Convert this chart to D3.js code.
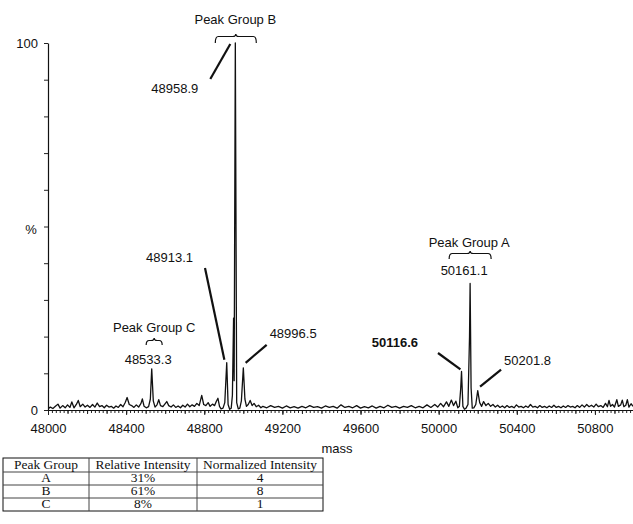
<!DOCTYPE html>
<html><head><meta charset="utf-8">
<script src="https://cdn.jsdelivr.net/npm/d3@7"></script>
<style>body{margin:0;background:#fff} svg{display:block}</style>
</head><body>
<svg id="chart" width="633" height="524"></svg>
<script>
// ---- data ----
const spectrumPoints = [
[48000,0.3],[48012,0.8],[48025,0.4],[48038,1.0],[48051,1.6],[48062,0.5],[48075,1.2],[48088,0.6],[48100,1.4],[48112,0.7],
[48122,2.2],[48133,0.6],[48145,1.5],[48155,2.6],[48165,0.9],[48178,1.6],[48190,0.8],[48202,1.3],[48215,0.7],[48228,1.5],
[48240,0.8],[48252,1.9],[48264,0.9],[48276,1.2],[48288,0.6],[48300,1.3],[48312,0.8],[48324,1.0],[48336,0.5],[48348,1.1],
[48360,0.7],[48372,1.5],[48384,0.9],[48396,2.1],[48405,3.4],[48416,1.5],[48428,1.2],[48440,0.7],[48452,1.4],[48464,0.8],
[48476,1.8],[48483,3.0],[48492,1.0],[48503,0.6],[48515,0.9],[48524,3.0],[48531,11.2],[48539,2.5],[48548,0.8],[48558,1.4],
[48567,2.8],[48576,1.2],[48588,0.9],[48598,1.6],[48608,2.3],[48618,1.2],[48630,0.8],[48642,1.4],[48654,0.7],[48666,1.1],
[48678,0.6],[48690,1.3],[48702,0.8],[48714,1.6],[48726,0.9],[48738,1.4],[48750,1.0],[48762,1.8],[48774,1.2],[48787,4.0],
[48797,1.5],[48808,1.2],[48820,2.0],[48830,1.0],[48842,1.6],[48853,1.2],[48862,2.4],[48870,3.2],[48878,1.0],[48886,0.3],
[48896,0.5],[48905,2.0],[48915,12.9],[48922,1.5],[48930,0.2],[48938,0.5],[48944,4.0],[48950,25],[48953,8],[48959,100],
[48966,2.0],[48974,0.3],[48982,0.5],[48990,2.5],[49000,11.5],[49008,3.0],[49016,1.0],[49025,1.5],[49035,2.6],[49045,1.2],
[49055,1.8],[49066,0.9],[49078,1.3],[49090,0.6],[49100,1.0],[49120,0.6],[49140,1.2],[49160,0.7],[49180,1.0],[49200,0.5],
[49220,1.1],[49240,0.6],[49260,0.9],[49280,0.5],[49300,1.0],[49320,0.6],[49340,1.2],[49360,0.7],[49380,0.9],[49400,0.5],
[49420,1.1],[49440,0.7],[49460,1.0],[49480,0.5],[49500,1.4],[49520,0.7],[49540,1.0],[49560,0.6],[49580,1.2],[49600,0.5],
[49620,0.9],[49640,0.6],[49660,1.1],[49680,0.5],[49700,1.0],[49720,0.6],[49740,1.3],[49760,0.7],[49780,1.0],[49800,0.5],
[49820,1.0],[49840,0.7],[49860,1.2],[49880,0.6],[49900,1.0],[49920,0.6],[49940,1.4],[49960,0.7],[49980,1.5],[49995,0.8],
[50010,1.8],[50025,0.9],[50040,2.2],[50052,1.0],[50065,2.7],[50076,1.2],[50088,2.4],[50098,0.6],[50106,1.0],[50113,6.0],
[50117,10.5],[50124,1.0],[50132,0.2],[50140,0.5],[50150,1.5],[50158,20],[50161,34.5],[50166,6],[50172,0.5],[50180,0.6],
[50190,1.5],[50200,5.3],[50210,2.0],[50220,1.0],[50230,2.3],[50242,1.2],[50254,1.8],[50266,1.0],[50278,1.5],[50290,0.8],
[50302,1.3],[50314,0.7],[50326,1.1],[50338,0.6],[50350,1.2],[50362,0.7],[50374,1.0],[50386,0.6],[50398,1.4],[50410,0.8],
[50422,1.0],[50434,0.6],[50446,1.1],[50458,0.7],[50470,1.5],[50482,0.8],[50494,1.0],[50506,0.6],[50518,1.2],[50530,0.7],
[50542,1.0],[50554,0.6],[50566,1.1],[50578,0.7],[50590,1.3],[50602,0.7],[50614,1.0],[50626,0.6],[50638,1.1],[50650,0.7],
[50662,1.2],[50674,0.8],[50686,1.0],[50698,0.6],[50710,1.2],[50722,0.7],[50734,1.4],[50746,0.8],[50758,1.5],[50770,0.9],
[50782,1.3],[50794,0.8],[50806,1.6],[50818,0.9],[50830,1.2],[50842,0.7],[50854,1.8],[50864,0.9],[50872,2.6],[50880,1.0],
[50890,1.5],[50900,0.8],[50912,2.8],[50920,1.0],[50932,1.4],[50940,2.7],[50948,0.9],[50958,1.3],[50966,2.8],[50974,0.8],
[50985,1.7],[50995,1.0]
];
const xTickValues = [48000,48400,48800,49200,49600,50000,50400,50800];
const yTickValues = [0,10,20,30,40,50,60,70,80,90,100];
const yTickLabels = [0,100];
const peakMasses = [48533.3,48913.1,48958.9,48996.5,50116.6,50161.1,50201.8];
const peakHeights = [11.2,12.9,100,11.5,10.5,34.5,5.3];
const groupNames = ["Peak Group A","Peak Group B","Peak Group C"];
const tableHeader = ["Peak Group","Relative Intensity","Normalized Intensity"];
const tableGroups = ["A","B","C"];
const tableRelative = ["31%","61%","8%"];
const tableNormalized = ["4","8","1"];

// ---- chart ----
const svg = d3.select("#chart");
const x = d3.scaleLinear().domain([48000, 51000]).range([48, 634]);
const y = d3.scaleLinear().domain([0, 100]).range([410, 43]);
const sans = "Liberation Sans, Arial, sans-serif";

svg.append("defs").append("clipPath").attr("id","clip")
  .append("rect").attr("x",48).attr("y",0).attr("width",585).attr("height",420);

// spectrum
const line = d3.line().x(d => x(d[0])).y(d => y(d[1]));
svg.append("path").datum(spectrumPoints)
  .attr("clip-path","url(#clip)")
  .attr("d", line).attr("fill","none").attr("stroke","#111")
  .attr("stroke-width",1.3).attr("stroke-linejoin","round");

// x axis: minor ticks
const xMinor = svg.append("g").attr("transform","translate(0,410)")
  .call(d3.axisBottom(x).tickValues(d3.range(48000, 51000, 20)).tickSize(3).tickFormat("").tickSizeOuter(0));
xMinor.select(".domain").remove();
const xMid = svg.append("g").attr("transform","translate(0,410)")
  .call(d3.axisBottom(x).tickValues(d3.range(48000, 51000, 100)).tickSize(4).tickFormat("").tickSizeOuter(0));
xMid.select(".domain").remove();
const xAxis = svg.append("g").attr("transform","translate(0,410)")
  .call(d3.axisBottom(x).tickValues(xTickValues).tickSize(5).tickPadding(9).tickSizeOuter(0).tickFormat(d3.format("d")));
xAxis.selectAll("text").attr("font-family", sans).attr("font-size",13).attr("fill","#111");
svg.selectAll(".tick line").attr("stroke","#222");
xAxis.select(".domain").attr("stroke","#111").attr("stroke-width",1.2);

// y axis
const yAxis = svg.append("g").attr("transform","translate(48,0)")
  .call(d3.axisLeft(y).tickValues(yTickValues).tickSize(4).tickPadding(6).tickSizeOuter(0)
    .tickFormat(d => yTickLabels.includes(d) ? d : ""));
yAxis.selectAll("text").attr("font-family", sans).attr("font-size",13).attr("fill","#111");
yAxis.select(".domain").attr("stroke","#111").attr("stroke-width",1.2);
yAxis.selectAll(".tick line").attr("stroke","#222");

svg.append("text").attr("x",31).attr("y",y(50)+7).attr("text-anchor","middle")
  .attr("font-family",sans).attr("font-size",13).attr("fill","#111").text("%");
svg.append("text").attr("x",337).attr("y",453).attr("text-anchor","middle")
  .attr("font-family",sans).attr("font-size",13).attr("fill","#111").text("mass");

// annotations
function txt(xp, yp, s, anchor, weight){
  svg.append("text").attr("x",xp).attr("y",yp).attr("text-anchor",anchor||"middle")
    .attr("font-family",sans).attr("font-size",13).attr("font-weight",weight||"normal")
    .attr("fill","#111").text(s);
}
function leader(x1,y1,x2,y2){
  svg.append("line").attr("x1",x1).attr("y1",y1).attr("x2",x2).attr("y2",y2)
    .attr("stroke","#111").attr("stroke-width",2.2);
}
function brace(x0,x1,yT,yB){
  const xm=(x0+x1)/2, yM=yT+2.5;
  svg.append("path").attr("d",
    `M${x0},${yB} Q${x0},${yM} ${x0+3},${yM} L${xm-3},${yM} Q${xm},${yM} ${xm},${yT} Q${xm},${yM} ${xm+3},${yM} L${x1-3},${yM} Q${x1},${yM} ${x1},${yB}`)
    .attr("fill","none").attr("stroke","#111").attr("stroke-width",1.2);
}
const pk = i => [x(peakMasses[i]), y(peakHeights[i])];

// Group B
let [bx, by] = pk(2);
txt(bx, 24, groupNames[1]);
brace(bx-20, bx+21, 34, 43);
leader(bx-25, 79, bx-5, 44);
txt(bx-37, 93, peakMasses[2].toFixed(1), "end");
// 48913.1
let [p1x, p1y] = pk(1);
txt(193, 262, peakMasses[1].toFixed(1), "end");
leader(205, 268, p1x-2, p1y-3);
// 48996.5
let [p3x, p3y] = pk(3);
leader(p3x+3, p3y-5, p3x+24, p3y-23);
txt(p3x+27, 338, peakMasses[3].toFixed(1), "start");
// Group C
let [cx, cy] = pk(0);
txt(cx+2, 332, groupNames[2]);
brace(cx-6, cx+10, 338, 345);
txt(cx-4, 364, peakMasses[0].toFixed(1));
// Group A
let [ax, ay] = pk(5);
txt(ax-1, 247, groupNames[0]);
brace(ax-21, ax+21, 251, 259);
txt(ax-6, 275, peakMasses[5].toFixed(1));
// 50116.6
let [p4x, p4y] = pk(4);
txt(418, 347, peakMasses[4].toFixed(1), "end", "bold");
leader(438, 353, p4x-1, p4y-2);
// 50201.8
let [p6x, p6y] = pk(6);
leader(p6x+2, p6y-4, p6x+23, p6y-21);
txt(p6x+26, 365, peakMasses[6].toFixed(1), "start");

// ---- table ----
const colX = [3, 89, 197, 323];
const rowY = [458, 472, 485, 498, 511];
const serif = "Liberation Serif, Times New Roman, serif";
const tbl = svg.append("g");
tbl.append("rect").attr("x",colX[0]).attr("y",rowY[0]).attr("width",colX[3]-colX[0]).attr("height",rowY[4]-rowY[0])
  .attr("fill","none").attr("stroke","#111").attr("stroke-width",1);
rowY.slice(1,4).forEach(ry => tbl.append("line").attr("x1",colX[0]).attr("x2",colX[3]).attr("y1",ry).attr("y2",ry)
  .attr("stroke","#444").attr("stroke-width",1));
colX.slice(1,3).forEach(cxx => tbl.append("line").attr("x1",cxx).attr("x2",cxx).attr("y1",rowY[0]).attr("y2",rowY[4])
  .attr("stroke","#444").attr("stroke-width",1));
const rows = [tableHeader].concat(tableGroups.map((g,i)=>[g, tableRelative[i], tableNormalized[i]]));
rows.forEach((r, ri) => {
  r.forEach((c, ci) => {
    const xc = (colX[ci]+colX[ci+1])/2;
    const yc = rowY[ri+1] - 3;
    tbl.append("text").attr("transform",`translate(${xc},${yc}) scale(1.12,1)`)
      .attr("text-anchor","middle").attr("font-family",serif).attr("font-size",12).attr("fill","#111").text(c);
  });
});
</script>
</body></html>
